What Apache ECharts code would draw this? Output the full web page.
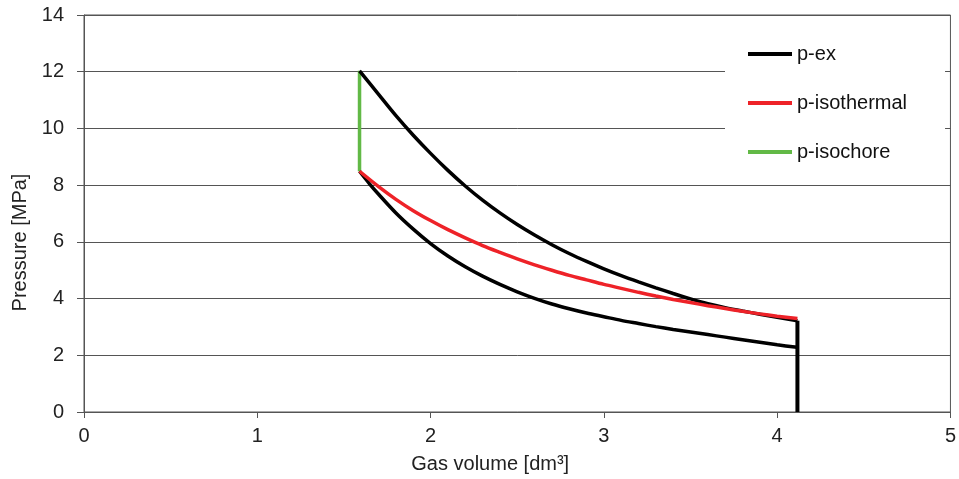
<!DOCTYPE html>
<html>
<head>
<meta charset="utf-8">
<script src="https://cdn.jsdelivr.net/npm/echarts@6/dist/echarts.min.js"></script>
<style>
  html, body { margin: 0; padding: 0; background: #fff; }
  #chart { width: 959px; height: 479px; }
</style>
</head>
<body>
<div id="chart"></div>
<script>
// ---- data (volume in dm3, pressure in MPa) ----
const pExUpperV = [1.59, 1.7, 1.8, 1.9, 2.0, 2.1, 2.2, 2.3, 2.4, 2.5, 2.6, 2.7, 2.8, 2.9, 3.0, 3.1, 3.2, 3.3, 3.4, 3.5, 3.6, 3.7, 3.8, 3.9, 4.0, 4.117];
const pExUpperP = [12.03, 11.2, 10.45, 9.76, 9.12, 8.52, 7.97, 7.47, 7.02, 6.61, 6.24, 5.9, 5.59, 5.31, 5.05, 4.81, 4.59, 4.38, 4.18, 3.99, 3.82, 3.68, 3.56, 3.45, 3.34, 3.22];
const pExLowerV = [1.59, 1.65, 1.7, 1.8, 1.9, 2.0, 2.1, 2.2, 2.3, 2.4, 2.5, 2.6, 2.7, 2.8, 2.9, 3.0, 3.1, 3.2, 3.3, 3.4, 3.5, 3.6, 3.7, 3.8, 3.9, 4.0, 4.115];
const pExLowerP = [8.49, 8.03, 7.68, 7.02, 6.45, 5.94, 5.5, 5.12, 4.79, 4.5, 4.24, 4.01, 3.81, 3.64, 3.49, 3.36, 3.23, 3.12, 3.01, 2.91, 2.82, 2.73, 2.64, 2.55, 2.46, 2.37, 2.28];
const pExDropV = [4.117, 4.117];
const pExDropP = [3.22, 0];
const isoThermV = [1.59, 1.7, 1.8, 1.9, 2.0, 2.1, 2.2, 2.3, 2.4, 2.5, 2.6, 2.7, 2.8, 2.9, 3.0, 3.1, 3.2, 3.3, 3.4, 3.5, 3.6, 3.7, 3.8, 3.9, 4.0, 4.117];
const isoThermP = [8.49, 7.95, 7.5, 7.1, 6.75, 6.43, 6.14, 5.87, 5.63, 5.4, 5.19, 5.0, 4.82, 4.66, 4.5, 4.36, 4.22, 4.09, 3.97, 3.86, 3.75, 3.65, 3.55, 3.46, 3.38, 3.30];
const isoChoreV = [1.59, 1.59];
const isoChoreP = [8.49, 12.03];
const seriesNames = ['p-ex', 'p-isothermal', 'p-isochore'];
const xAxisTitle = 'Gas volume [dm\u00B3]';
const yAxisTitle = 'Pressure [MPa]';

function pairs(xs, ys) { return xs.map((x, i) => [x, ys[i]]); }

const FONT = 'Liberation Sans';
const BLACK = '#000000', RED = '#ee2228', GREEN = '#62b946';
const LINEC = '#555555';
const FS = 20;

const chart = echarts.init(document.getElementById('chart'), null, { renderer: 'canvas' });
chart.setOption({
  animation: false,
  backgroundColor: '#ffffff',
  grid: { left: 84, right: 8, top: 15, bottom: 66, show: true, borderColor: LINEC, borderWidth: 1, backgroundColor: 'transparent' },
  xAxis: {
    type: 'value', min: 0, max: 5, interval: 1,
    name: xAxisTitle, nameLocation: 'middle', nameGap: 42,
    nameTextStyle: { fontFamily: FONT, fontSize: FS, color: '#222', padding: [0, 54, 0, 0] },
    axisLine: { show: true, lineStyle: { color: LINEC, width: 1 } },
    axisTick: { show: true, inside: false, length: 6, lineStyle: { color: LINEC } },
    axisLabel: { fontFamily: FONT, fontSize: FS, color: '#222', margin: 14 },
    splitLine: { show: false }
  },
  yAxis: {
    type: 'value', min: 0, max: 14, interval: 2,
    name: yAxisTitle, nameLocation: 'middle', nameGap: 51, nameRotate: 90,
    nameTextStyle: { fontFamily: FONT, fontSize: FS, color: '#222', padding: [0, 58, 0, 0] },
    axisLine: { show: true, lineStyle: { color: LINEC, width: 1 } },
    axisTick: { show: true, inside: false, length: 7, lineStyle: { color: LINEC } },
    axisLabel: { fontFamily: FONT, fontSize: FS, color: '#222', margin: 20 },
    splitLine: { show: true, lineStyle: { color: LINEC, width: 1 } }
  },
  legend: {
    data: seriesNames,
    orient: 'vertical',
    left: 725, top: 30,
    padding: [14, 38, 14, 23],
    backgroundColor: '#ffffff',
    icon: 'rect',
    itemWidth: 44, itemHeight: 4,
    itemGap: 29,
    textStyle: { fontFamily: FONT, fontSize: FS, color: '#111', lineHeight: 20 }
  },
  series: [
    { name: seriesNames[0], type: 'line', data: pairs(pExUpperV, pExUpperP), showSymbol: false, symbol: 'none', smooth: 0.3, z: 3,
      lineStyle: { color: BLACK, width: 3.5 }, itemStyle: { color: BLACK } },
    { name: seriesNames[0], type: 'line', data: pairs(pExLowerV, pExLowerP), showSymbol: false, symbol: 'none', smooth: 0.3, z: 3,
      lineStyle: { color: BLACK, width: 3.5 }, itemStyle: { color: BLACK } },
    { name: seriesNames[0], type: 'line', data: pairs(pExDropV, pExDropP), showSymbol: false, symbol: 'none', z: 3,
      lineStyle: { color: BLACK, width: 4 }, itemStyle: { color: BLACK } },
    { name: seriesNames[1], type: 'line', data: pairs(isoThermV, isoThermP), showSymbol: false, symbol: 'none', smooth: 0.3, z: 4,
      lineStyle: { color: RED, width: 3.5 }, itemStyle: { color: RED } },
    { name: seriesNames[2], type: 'line', data: pairs(isoChoreV, isoChoreP), showSymbol: false, symbol: 'none', z: 2,
      lineStyle: { color: GREEN, width: 3.5 }, itemStyle: { color: GREEN } }
  ]
});
</script>
</body>
</html>
